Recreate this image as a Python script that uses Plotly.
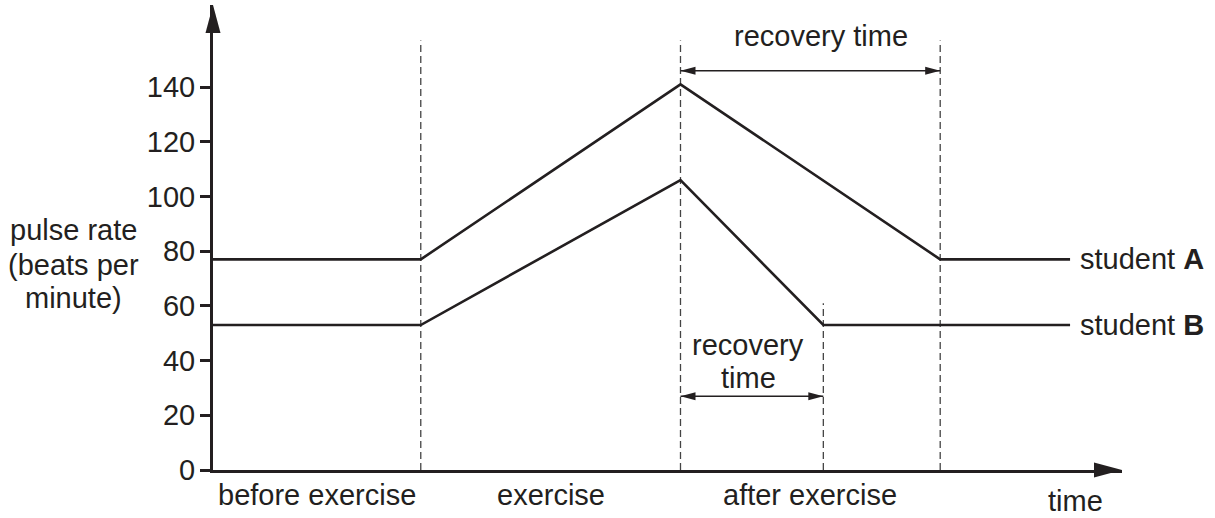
import plotly.graph_objects as go

# ---- data ----
time_A = [0, 8, 18, 28, 33]
pulse_A = [77, 77, 141, 77, 77]
time_B = [0, 8, 18, 23.5, 33]
pulse_B = [53, 53, 106, 53, 53]

phase_bounds = [8, 18, 28]          # dashed phase / recovery boundaries
b_recovery_end = 23.5               # end of student B recovery
y_ticks = [0, 20, 40, 60, 80, 100, 120, 140]
phase_labels = ["before exercise", "exercise", "after exercise"]
phase_label_x = [4, 13, 23]
y_title_lines = ["pulse rate", "(beats per", "minute)"]

X_MAX = 35
Y_MAX = 170

INK = "#231f20"
FONT = "Liberation Sans, Arial, Helvetica, sans-serif"
FS = 29

fig = go.Figure()
fig.add_trace(go.Scatter(x=time_A, y=pulse_A, mode="lines",
                         line=dict(color=INK, width=2.6), showlegend=False,
                         hoverinfo="skip"))
fig.add_trace(go.Scatter(x=time_B, y=pulse_B, mode="lines",
                         line=dict(color=INK, width=2.6), showlegend=False,
                         hoverinfo="skip"))

shapes = []
dash_style = dict(color="#444", width=1.3, dash="7px,4px")
for xb in phase_bounds:
    shapes.append(dict(type="line", x0=xb, x1=xb, y0=0, y1=157,
                       xref="x", yref="y", line=dash_style, layer="below"))
shapes.append(dict(type="line", x0=b_recovery_end, x1=b_recovery_end, y0=0, y1=61,
                   xref="x", yref="y", line=dash_style, layer="below"))

# axis arrowheads (pixel sized, anchored at the axis ends in paper coords)
shapes.append(dict(type="path", xref="paper", yref="paper", xsizemode="pixel", ysizemode="pixel",
                   xanchor=0, yanchor=1, path="M 0 0 L -7.5 -28 L 7.5 -28 Z",
                   fillcolor=INK, line=dict(width=0)))
shapes.append(dict(type="path", xref="paper", yref="paper", xsizemode="pixel", ysizemode="pixel",
                   xanchor=1, yanchor=0, path="M 0 0 L -28 7.5 L -28 -7.5 Z",
                   fillcolor=INK, line=dict(width=0)))


def double_arrow(x0, x1, y):
    out = [dict(type="line", x0=x0, x1=x1, y0=y, y1=y, xref="x", yref="y",
                line=dict(color=INK, width=1.5))]
    out.append(dict(type="path", xref="x", yref="y", xsizemode="pixel", ysizemode="pixel",
                    xanchor=x0, yanchor=y, path="M 0 0 L 15 4 L 15 -4 Z",
                    fillcolor=INK, line=dict(width=0)))
    out.append(dict(type="path", xref="x", yref="y", xsizemode="pixel", ysizemode="pixel",
                    xanchor=x1, yanchor=y, path="M 0 0 L -15 4 L -15 -4 Z",
                    fillcolor=INK, line=dict(width=0)))
    return out


shapes += double_arrow(phase_bounds[1], phase_bounds[2], 146)
shapes += double_arrow(phase_bounds[1], b_recovery_end, 27)

font = dict(family=FONT, size=FS, color=INK)
annotations = [
    dict(x=23.4, y=158.5, text="recovery time", showarrow=False, font=font,
         xanchor="center", yanchor="middle"),
    dict(x=20.6, y=45.7, text="recovery", showarrow=False, font=font,
         xanchor="center", yanchor="middle"),
    dict(x=20.6, y=33.8, text="time", showarrow=False, font=font,
         xanchor="center", yanchor="middle"),
    dict(x=time_A[-1] + 0.3, y=pulse_A[-1], text="student <b>A</b>", showarrow=False,
         font=font, xanchor="left", yanchor="middle"),
    dict(x=time_B[-1] + 0.3, y=pulse_B[-1], text="student <b>B</b>", showarrow=False,
         font=font, xanchor="left", yanchor="middle"),
    dict(x=33.2, xref="x", y=-0.067, yref="paper", text="time", showarrow=False, font=font,
         xanchor="center", yanchor="middle"),
]
for line_txt, yp in zip(y_title_lines, [0.516, 0.441, 0.370]):
    annotations.append(dict(x=-0.153, xref="paper", y=yp, yref="paper", text=line_txt,
                            showarrow=False, font=font, xanchor="center", yanchor="middle"))
for lab, xl in zip(phase_labels, phase_label_x):
    annotations.append(dict(x=xl, xref="x", y=-0.054, yref="paper", text=lab,
                            showarrow=False, font=font,
                            xanchor="center", yanchor="middle"))

fig.update_layout(
    width=1215, height=518,
    margin=dict(l=213, r=93, t=5, b=48),
    paper_bgcolor="white", plot_bgcolor="white",
    shapes=shapes, annotations=annotations,
    font=font,
    xaxis=dict(range=[0, X_MAX], showgrid=False, zeroline=False, showline=True,
               linecolor=INK, linewidth=3, showticklabels=False, ticks=""),
    yaxis=dict(range=[0, Y_MAX], showgrid=False, zeroline=False, showline=True,
               linecolor=INK, linewidth=3, tickvals=y_ticks, ticks="outside",
               ticklen=10, tickwidth=3, tickcolor=INK, tickfont=font,
               ticklabelstandoff=-1),
)

fig.write_html("out.html", config={"displayModeBar": False},
               post_script="document.body.style.margin='0';document.body.style.overflow='hidden';")
